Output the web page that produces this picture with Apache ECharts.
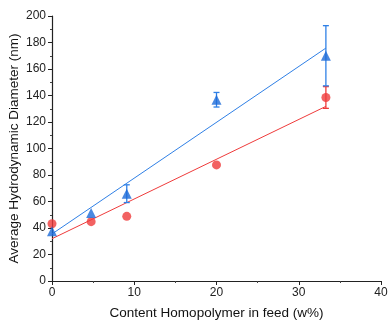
<!DOCTYPE html>
<html>
<head>
<meta charset="utf-8">
<script src="https://cdn.jsdelivr.net/npm/echarts@6/dist/echarts.min.js"></script>
<style>html,body{margin:0;padding:0;background:#fff}#c{width:388px;height:324px}</style>
</head>
<body>
<div id="c"></div>
<script>
// Data
var xValues = [0, 4.76, 9.09, 20, 33.3];
var redValues = [43.2, 44.8, 48.8, 87.6, 138.5];
var redErrors = [0, 0, 0, 0, 8.2];
var blueValues = [37.6, 51.3, 65.9, 136.8, 170];
var blueErrors = [0, 0, 6.7, 5.5, 22.7];
var fitX = [0, 33.3];
var redFit = [31.9, 131.8];
var blueFit = [35.5, 175.8];
var xTicks = [0, 10, 20, 30, 40];
var yTicks = [0, 20, 40, 60, 80, 100, 120, 140, 160, 180, 200];

var RED = '#ef3b3b';
var BLUE = '#1b6ad8';
var LBLUE = '#2f80e6';
var font = 'Liberation Sans, Arial, sans-serif';

function pairs(xs, ys) { return xs.map(function (x, i) { return [x, ys[i]]; }); }
function errData(xs, ys, es) {
  var out = [];
  xs.forEach(function (x, i) { if (es[i] > 0) out.push([x, ys[i] - es[i], ys[i] + es[i]]); });
  return out;
}
function errSeries(data, color) {
  return {
    type: 'custom',
    data: data,
    z: 3,
    encode: { x: 0, y: [1, 2] },
    renderItem: function (params, api) {
      var lo = api.coord([api.value(0), api.value(1)]);
      var hi = api.coord([api.value(0), api.value(2)]);
      var w = 3;
      var st = { stroke: color, lineWidth: 1.3 };
      return {
        type: 'group',
        children: [
          { type: 'line', shape: { x1: lo[0], y1: lo[1], x2: hi[0], y2: hi[1] }, style: st },
          { type: 'line', shape: { x1: lo[0] - w, y1: lo[1], x2: lo[0] + w, y2: lo[1] }, style: st },
          { type: 'line', shape: { x1: hi[0] - w, y1: hi[1], x2: hi[0] + w, y2: hi[1] }, style: st }
        ]
      };
    }
  };
}

var chart = echarts.init(document.getElementById('c'), null, { renderer: 'canvas' });
chart.setOption({
  animation: false,
  backgroundColor: '#fff',
  grid: { left: 52, right: 7, top: 16, bottom: 43, containLabel: false, outerBoundsMode: 'none' },
  xAxis: {
    type: 'value', min: xTicks[0], max: xTicks[xTicks.length - 1], interval: 10,
    name: 'Content Homopolymer in feed (w%)', nameLocation: 'middle', nameGap: 25,
    nameMoveOverlap: false,
    nameTextStyle: { fontFamily: font, fontSize: 13.5, color: '#111' },
    axisLine: { lineStyle: { color: '#222', width: 1.2 } },
    axisTick: { length: 4, lineStyle: { color: '#222' } },
    minorTick: { show: true, splitNumber: 2, length: 2, lineStyle: { color: '#444' } },
    axisLabel: { fontFamily: font, fontSize: 12, color: '#222', margin: 6 },
    splitLine: { show: false }
  },
  yAxis: {
    type: 'value', min: yTicks[0], max: yTicks[yTicks.length - 1], interval: 20,
    name: 'Average Hydrodynamic Diameter (nm)', nameLocation: 'middle', nameGap: 31,
    nameMoveOverlap: false,
    nameTextStyle: { fontFamily: font, fontSize: 13.5, color: '#111' },
    axisLine: { show: true, lineStyle: { color: '#222', width: 1.2 } },
    axisTick: { show: true, length: 4, lineStyle: { color: '#222' } },
    minorTick: { show: true, splitNumber: 2, length: 2, lineStyle: { color: '#444' } },
    axisLabel: { fontFamily: font, fontSize: 12, color: '#222', margin: 6 },
    splitLine: { show: false }
  },
  series: [
    { type: 'line', data: pairs(fitX, redFit), symbol: 'none', lineStyle: { color: RED, width: 1 }, z: 1 },
    { type: 'line', data: pairs(fitX, blueFit), symbol: 'none', lineStyle: { color: LBLUE, width: 1 }, z: 1 },
    errSeries(errData(xValues, redValues, redErrors), RED),
    errSeries(errData(xValues, blueValues, blueErrors), LBLUE),
    { type: 'scatter', data: pairs(xValues, redValues), symbol: 'circle', symbolSize: 9, itemStyle: { color: RED }, z: 4 },
    { type: 'scatter', data: pairs(xValues, blueValues), symbol: 'triangle', symbolSize: 10, itemStyle: { color: BLUE }, z: 5 }
  ]
});
</script>
</body>
</html>
